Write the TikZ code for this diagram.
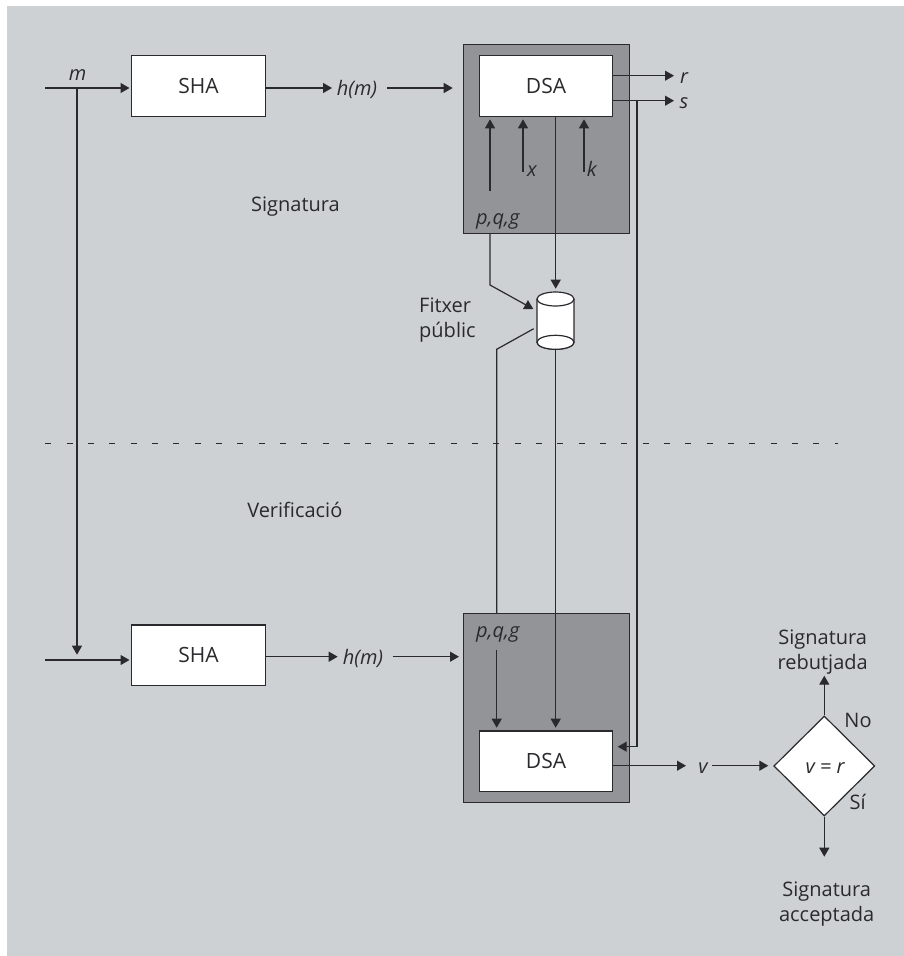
\documentclass[tikz,border=0pt]{standalone}
\usepackage{fontspec}
\setmainfont{Open Sans}
\usetikzlibrary{arrows.meta,shapes.geometric,calc}
\definecolor{panel}{HTML}{CDD1D4}
\definecolor{inner}{HTML}{939498}
\definecolor{ink}{HTML}{2A2A2E}
\tikzset{
 box/.style={draw=ink,line width=1.2pt,fill=white,minimum width=133.5pt,minimum height=60.5pt,inner sep=0,text=ink,font=\fontsize{21}{25}\selectfont},
 outerbox/.style={draw=ink,line width=1.2pt,fill=inner,inner sep=0},
 conn/.style={draw=ink,line width=1.2pt},
 arr/.style={conn,-{Triangle[length=9pt,width=10pt]}},
 lab/.style={inner sep=0,text=ink,font=\fontsize{20}{25}\selectfont,align=center},
 ilab/.style={lab,font=\fontsize{20}{25}\selectfont\itshape},
}
\begin{document}
\begin{tikzpicture}[x=1pt,y=-1pt]
\useasboundingbox (0,0) rectangle (904,956);
\fill[panel] (7,6) rectangle (904,956);
% outer grey boxes
\node[outerbox,minimum width=165.5pt,minimum height=189pt] (topouter) at (546.5,139.2) {};
\node[outerbox,minimum width=165.5pt,minimum height=189pt] (botouter) at (546.5,708.2) {};
% boxes
\node[box] (sha1) at (198.5,86) {SHA};
\node[box] (dsa1) at (546,86) {DSA};
\node[box] (sha2) at (198.5,655.3) {SHA};
\node[box] (dsa2) at (546,761.3) {DSA};
% cylinder
\node[minimum width=37pt,minimum height=57pt,inner sep=0] (cyl) at (555.5,320.7) {};
\draw[conn,fill=white] (537,299) -- (537,342.3) arc[start angle=180,end angle=360,x radius=18.5,y radius=-7] -- (574,299);
\draw[conn,fill=white] (555.5,299) ellipse[x radius=18.5,y radius=7];
\draw[conn,fill=white] (555.5,342.3) ellipse[x radius=18.5,y radius=7];
% diamond
\node[diamond,draw=ink,line width=1.2pt,fill=white,minimum width=101pt,minimum height=100pt,inner sep=0] (dec) at (824.3,766) {};
\node[ilab,anchor=base] (vr) at (825,773) {v = r};
% labels
\node[ilab,anchor=base] (m) at (77.7,80) {m};
\node[ilab,anchor=base] (hm1) at (357,95) {h(m)};
\node[ilab,anchor=base] (r) at (684,83) {r};
\node[ilab,anchor=base] (s) at (684,108) {s};
\node[ilab,anchor=base] (x) at (532,176) {x};
\node[ilab,anchor=base] (k) at (591.7,176) {k};
\node[ilab,anchor=base] (pqg1) at (497.7,224) {p,q,g};
\node[ilab,anchor=base] (pqg2) at (497.7,637) {p,q,g};
\node[lab,anchor=base] (sig) at (295.5,211.7) {Signatura};
\node[lab,anchor=base] (ver) at (294.8,517.3) {Verificació};
\node[lab,align=left,anchor=west] (fitxer) at (419,320) {Fitxer\\públic};
\node[ilab,anchor=base] (hm2) at (363,664) {h(m)};
\node[ilab,anchor=base] (v) at (703,773) {v};
\node[lab] (rebut) at (822.7,652) {Signatura\\rebutjada};
\node[lab] (accept) at (826.7,904) {Signatura\\acceptada};
\node[lab] (no) at (858,720.7) {No};
\node[lab] (si) at (857.7,802) {Sí};
% coordinates
\coordinate (mstart) at (45.3,88);
\coordinate (mjoin) at (77,88);
\coordinate (mdown) at (77,654.7);
\coordinate (m2start) at (45.3,660);
\coordinate (shain1) at (129.5,88);
\coordinate (shain2) at (129.5,660);
\coordinate (pqgtop) at (490,190.7);
\coordinate (xtop) at (523,171.7);
\coordinate (ktop) at (584,171.7);
\coordinate (tipy) at (0,119.3);
% top connectors
\draw[arr] (mstart) -- (shain1);
\draw[arr] (mjoin) -- (mdown);
\draw[arr] (m2start) -- (shain2);
\draw[arr] (sha1.east |- mstart) -- (332,88);
\draw[arr] (387,88) -- (452.7,88);
\draw[arr] (612.7,75.7) -- (674,75.7);
\draw[arr] (612.7,100.7) -- (674,100.7);
\draw[arr] (pqgtop) -- (pqgtop |- tipy);
\draw[arr] (xtop) -- (xtop |- tipy);
\draw[arr] (ktop) -- (ktop |- tipy);
\draw[arr] (555.7,116.3) -- (555.7,288.7);
\draw[arr] (490,233.7) -- (490,285) -- (533.3,309);
\draw[conn] (533.7,328.7) -- (496.7,349.3) -- (496.7,613.7);
\draw[conn] (555.7,349.3) -- (555.7,600);
% bottom
\draw[arr] (265.3,656.7) -- (337.7,656.7);
\draw[arr] (392.7,656.7) -- (459,656.7);
\draw[arr] (496.7,650) -- (496.7,727.7);
\draw[arr] (555.7,600) -- (555.7,727.7);
\draw[arr] (637,100.7) -- (637,746.7) -- (617.7,746.7);
\draw[arr] (612.7,765.7) -- (686,765.7);
\draw[arr] (712,765.7) -- (768.3,765.7);
\draw[arr] (dec.north) -- (824.3,675.7);
\draw[arr] (dec.south) -- (824.3,856.7);
% dashed
\draw[conn,line width=1.1pt,dash pattern=on 6pt off 15.33pt] (45.3,443.7) -- (838,443.7);
\end{tikzpicture}
\end{document}
